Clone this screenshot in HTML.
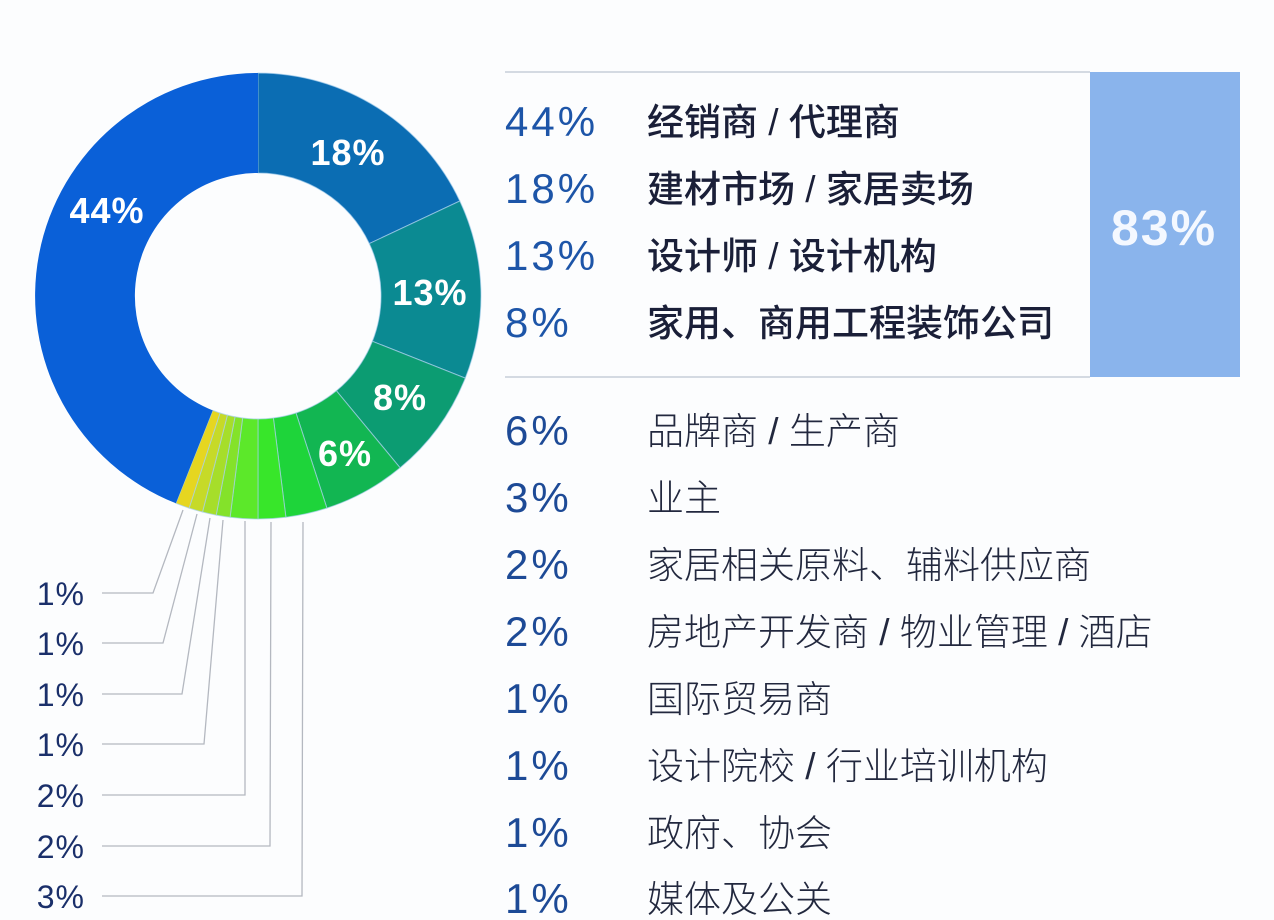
<!DOCTYPE html>
<html><head><meta charset="utf-8"><style>
html,body{margin:0;padding:0;background:#fcfdfe;}
svg{display:block}
</style></head><body>
<svg width="1274" height="920" xmlns="http://www.w3.org/2000/svg">
<rect width="1274" height="920" fill="#fcfdfe"/>
<g stroke="#a8d0ee" stroke-width="1" stroke-opacity="0.7">
<path fill="#0b6db3" d="M258,73 A223,223 0 0 1 459.8,201.0 L369.3,243.6 A123,123 0 0 0 258,173 Z"/>
<path fill="#0b8a92" d="M459.8,201.0 A223,223 0 0 1 465.3,378.1 L372.4,341.3 A123,123 0 0 0 369.3,243.6 Z"/>
<path fill="#0c9c72" d="M465.3,378.1 A223,223 0 0 1 400.1,467.8 L336.4,390.8 A123,123 0 0 0 372.4,341.3 Z"/>
<path fill="#12b652" d="M400.1,467.8 A223,223 0 0 1 326.9,508.1 L296.0,413.0 A123,123 0 0 0 336.4,390.8 Z"/>
<path fill="#1ed43a" d="M326.9,508.1 A223,223 0 0 1 285.9,517.2 L273.4,418.0 A123,123 0 0 0 296.0,413.0 Z"/>
<path fill="#38e62a" d="M285.9,517.2 A223,223 0 0 1 258,519 L258,419 A123,123 0 0 0 273.4,418.0 Z"/>
<path fill="#5ce82a" d="M258,519 A223,223 0 0 1 230.1,517.2 L242.6,418.0 A123,123 0 0 0 258,419 Z"/>
<path fill="#84e22a" d="M230.1,517.2 A223,223 0 0 1 216.2,515.1 L235.0,416.8 A123,123 0 0 0 242.6,418.0 Z"/>
<path fill="#a6de2a" d="M216.2,515.1 A223,223 0 0 1 202.5,512.0 L227.4,415.1 A123,123 0 0 0 235.0,416.8 Z"/>
<path fill="#c6da28" d="M202.5,512.0 A223,223 0 0 1 189.1,508.1 L220.0,413.0 A123,123 0 0 0 227.4,415.1 Z"/>
<path fill="#e6d620" d="M189.1,508.1 A223,223 0 0 1 175.9,503.3 L212.7,410.4 A123,123 0 0 0 220.0,413.0 Z"/>
<path fill="#0a60d8" stroke="none" d="M175.9,503.3 A223,223 0 0 1 258,73 L258,173 A123,123 0 0 0 212.7,410.4 Z"/>
</g>
<g font-family="Liberation Sans, sans-serif" font-weight="bold" font-size="36" fill="#ffffff" text-anchor="middle" letter-spacing="1">
<text x="107" y="223">44%</text>
<text x="348" y="165">18%</text>
<text x="430" y="305">13%</text>
<text x="400" y="410">8%</text>
<text x="345" y="466">6%</text>
</g>
<g fill="none" stroke="#b4b8c0" stroke-width="1.3">
<polyline points="102,593 153,593 183,510"/>
<polyline points="102,643 163,643 197,514"/>
<polyline points="102,694 182,694 210,518"/>
<polyline points="102,744 204,744 223,520"/>
<polyline points="102,795 245,795 245,521"/>
<polyline points="102,846 270,846 271,522"/>
<polyline points="102,896 302,896 303,522"/>
</g>
<g font-family="Liberation Sans, sans-serif" font-size="32" fill="#1a2f6a" text-anchor="end" letter-spacing="1">
<text x="85" y="605">1%</text>
<text x="85" y="655">1%</text>
<text x="85" y="706">1%</text>
<text x="85" y="756">1%</text>
<text x="85" y="807">2%</text>
<text x="85" y="858">2%</text>
<text x="85" y="908">3%</text>
</g>
<line x1="505" y1="72" x2="1090" y2="72" stroke="#d4dae2" stroke-width="2"/>
<line x1="505" y1="377" x2="1090" y2="377" stroke="#d4dae2" stroke-width="2"/>
<rect x="1090" y="72" width="150" height="305" fill="#8ab4ec"/>
<text x="1164" y="245" font-family="Liberation Sans, sans-serif" font-weight="bold" font-size="50" fill="#f4f8ff" text-anchor="middle" letter-spacing="2">83%</text>
<g font-family="Liberation Sans, sans-serif" font-size="42" fill="#1d55a8" letter-spacing="3">
<text x="505" y="136">44%</text>
<text x="505" y="203">18%</text>
<text x="505" y="270">13%</text>
<text x="505" y="337">8%</text>
</g>
<g font-family="Liberation Sans, sans-serif" font-size="42" fill="#1d4a96" letter-spacing="3">
<text x="505" y="445">6%</text>
<text x="505" y="512">3%</text>
<text x="505" y="579">2%</text>
<text x="505" y="646">2%</text>
<text x="505" y="713">1%</text>
<text x="505" y="780">1%</text>
<text x="505" y="847">1%</text>
<text x="505" y="913">1%</text>
</g>
<g font-family="Liberation Sans, 'Noto Sans CJK SC', sans-serif" font-size="37" fill="#1a1f38" font-weight="500">
<text x="647" y="135">经销商 / 代理商</text>
<text x="647" y="202">建材市场 / 家居卖场</text>
<text x="647" y="269">设计师 / 设计机构</text>
<text x="647" y="336">家用、商用工程装饰公司</text>
</g>
<g font-family="Liberation Sans, 'Noto Sans CJK SC', sans-serif" font-size="37" fill="#22283e" font-weight="300">
<text x="647" y="444">品牌商 / 生产商</text>
<text x="647" y="511">业主</text>
<text x="647" y="578">家居相关原料、辅料供应商</text>
<text x="647" y="645">房地产开发商 / 物业管理 / 酒店</text>
<text x="647" y="712">国际贸易商</text>
<text x="647" y="779">设计院校 / 行业培训机构</text>
<text x="647" y="846">政府、协会</text>
<text x="647" y="912">媒体及公关</text>
</g>
</svg>
</body></html>
